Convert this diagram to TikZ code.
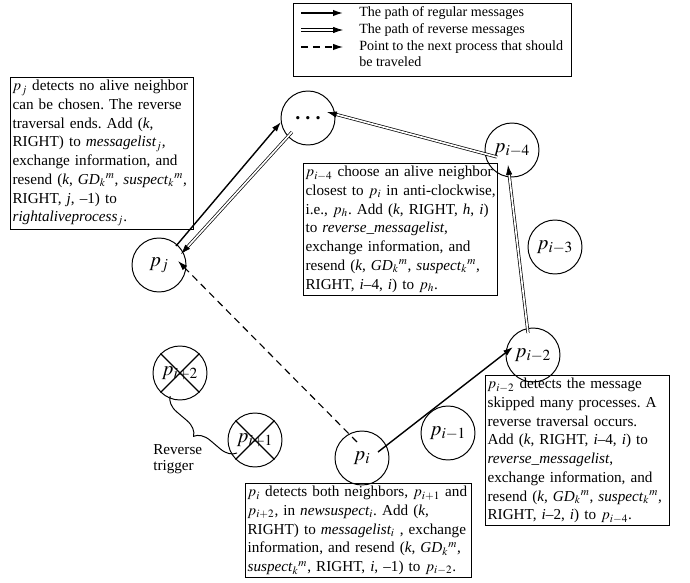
\documentclass[tikz,border=0pt]{standalone}
\usepackage{mathptmx}
\usepackage{fontspec}
\setmainfont{Liberation Serif}
\usetikzlibrary{positioning,arrows.meta,decorations.pathreplacing}
\newcommand{\GDkm}{\textit{GD}$_k{}^m$}
\newcommand{\suspkm}{\textit{suspect}$_k{}^m$}
% keep every written line on one line
\newcommand{\fitlines}{\rightskip=0pt plus 1fil minus 40pt\relax\hyphenpenalty=10000\relax}
\tikzset{
  proc/.style={circle, draw, line width=0.7pt, minimum size=13.5mm, inner sep=0pt, font=\Large},
  msgbox/.style={draw, line width=0.7pt, anchor=north west, align=left,
    inner xsep=1.5pt, inner ysep=2pt, font=\fontsize{10.8}{13.3}\selectfont},
  legtext/.style={inner sep=0pt, align=left, font=\fontsize{10}{12}\selectfont},
  regular/.style={line width=1pt, -{Latex[length=7pt,width=4.5pt]}},
  reverse/.style={double, double distance=1.2pt, line width=0.5pt, -{Latex[length=7pt,width=4.5pt]}},
  pointer/.style={line width=0.8pt, dash pattern=on 5pt off 3.5pt, -{Latex[length=7pt,width=4.5pt]}}
}
\frenchspacing

\begin{document}
\begin{tikzpicture}[x=0.25mm, y=-0.25mm]
\useasboundingbox (0,0) rectangle (690,583);
% legend
\node[draw, line width=0.7pt, anchor=north west, inner sep=0pt,
  minimum width=69.5mm, minimum height=18.25mm] (legend) at (293,3) {};
\foreach \k/\yy/\sty/\txt in {reg/13/regular/The path of regular messages,
                               rev/30/reverse/The path of reverse messages} {
  \coordinate (\k a) at (301,\yy);
  \coordinate (\k b) at (343,\yy);
  \draw[\sty] (\k a) -- (\k b);
  \node[legtext, anchor=west] (\k txt) at (359,\yy) {\txt};
}
\coordinate (pta) at (301,47);
\coordinate (ptb) at (343,47);
\draw[pointer] (pta) -- (ptb);
\node[legtext, anchor=north west] (pttxt) at (359,40) {Point to the next process that should\\be traveled};

% processes
\foreach \n/\pos/\lab in {dots/{(308,118)}/\textbf{. . .}, pj/{(159,265)}/$p_j$,
    pim4/{(512,150)}/$p_{i-4}$, pim3/{(555,247)}/$p_{i-3}$, pim2/{(533,355)}/$p_{i-2}$,
    pim1/{(448,433)}/$p_{i-1}$, pi/{(362,458)}/$p_i$,
    pip1/{(255,440)}/$p_{i+1}$, pip2/{(180,373)}/$p_{i+2}$}
  \node[proc] (\n) at \pos {\lab};
% crashed ones
\foreach \n in {pip1,pip2}
  \draw[line width=0.8pt] (\n.north west) -- (\n.south east) (\n.north east) -- (\n.south west);

% messages
\draw[regular] ([shift={(16,-6)}]pi.center) -- ([shift={(-20,-8)}]pim2.center);
\draw[reverse] ([shift={(-5,-22)}]pim2.center) -- ([shift={(-4,15)}]pim4.center);
\draw[reverse] ([shift={(-15,7)}]pim4.center) -- ([shift={(19,-6)}]dots.center);
\draw[reverse] ([shift={(-16,14)}]dots.center) -- ([shift={(22,-11)}]pj.center);
\draw[regular] ([shift={(17,-19)}]pj.center) -- ([shift={(-27,4)}]dots.center);
\draw[pointer] ([shift={(-5,-16)}]pi.center) -- ([shift={(19,-4)}]pj.center);

% reverse trigger
\draw[line width=0.7pt, decorate, decoration={brace, amplitude=11pt}]
  ([shift={(-18,13)}]pip1.center) -- ([shift={(-10,23)}]pip2.center);
\node[anchor=north west, align=left, inner sep=0pt, font=\fontsize{10.8}{11.5}\selectfont]
  (trig) at (153,444) {Reverse\\trigger};

% descriptions
\node[msgbox, text width=127pt] (bj) at (10,77) {\fitlines $p_j$ detects no alive neighbor\\
can be chosen. The reverse\\
traversal ends. Add (\textit{k},\\
RIGHT) to \textit{messagelist$_j$},\\
exchange information, and\\
resend (\textit{k}, \GDkm, \suspkm,\\
RIGHT, \textit{j}, --1) to\\
\textit{rightaliveprocess$_j$}.};
\node[msgbox, text width=135pt] (bim4) at (303,163) {\fitlines $p_{i-4}$ choose an alive neighbor\\
closest to $p_i$ in anti-clockwise,\\
i.e., $p_h$. Add (\textit{k}, RIGHT, \textit{h}, \textit{i})\\
to \textit{reverse\_messagelist},\\
exchange information, and\\
resend (\textit{k}, \GDkm, \suspkm,\\
RIGHT, \textit{i}--4, \textit{i}) to $p_h$.};
\node[msgbox, text width=128pt] (bim2) at (485,375) {\fitlines $p_{i-2}$ detects the message\\
skipped many processes. A\\
reverse traversal occurs.\\
Add (\textit{k}, RIGHT, \textit{i}--4, \textit{i}) to\\
\textit{reverse\_messagelist},\\
exchange information, and\\
resend (\textit{k}, \GDkm, \suspkm,\\
RIGHT, \textit{i}--2, \textit{i}) to $p_{i-4}$.};
\node[msgbox, text width=158pt] (bi) at (245,483) {\fitlines $p_i$ detects both neighbors, $p_{i+1}$ and\\
$p_{i+2}$, in \textit{newsuspect$_i$}. Add (\textit{k},\\
RIGHT) to \textit{messagelist$_i$} , exchange\\
information, and resend (\textit{k}, \GDkm,\\
\suspkm, RIGHT, \textit{i}, --1) to $p_{i-2}$.};
\end{tikzpicture}
\end{document}
